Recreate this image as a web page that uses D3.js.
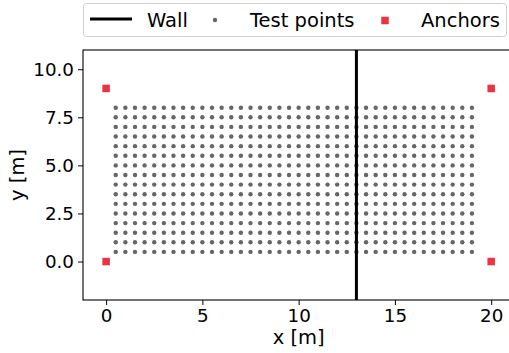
<!DOCTYPE html>
<html>
<head>
<meta charset="utf-8">
<script src="https://cdn.jsdelivr.net/npm/d3@7"></script>
<style>
  body { margin: 0; background: #fff; }
  svg { font-family: "DejaVu Sans", sans-serif; }
</style>
</head>
<body>
<div id="chart"></div>
<script>
// chart values
const xTicks = [0, 5, 10, 15, 20];
const yTicks = [0, 2.5, 5, 7.5, 10];
const testXs = [0.5, 1, 1.5, 2, 2.5, 3, 3.5, 4, 4.5, 5, 5.5, 6, 6.5, 7, 7.5, 8, 8.5, 9, 9.5,
                10, 10.5, 11, 11.5, 12, 12.5, 13, 13.5, 14, 14.5, 15, 15.5, 16, 16.5, 17, 17.5, 18, 18.5, 19];
const testYs = [0.5, 1, 1.5, 2, 2.5, 3, 3.5, 4, 4.5, 5, 5.5, 6, 6.5, 7, 7.5, 8];
const anchors = [[0, 0], [0, 9], [20, 0], [20, 9]];
const wallX = 13;
const legendLabels = ['Wall', 'Test points', 'Anchors'];

const width = 509, height = 353;
const margin = {t: 50, r: -5.3, b: 53, l: 83};

const svg = d3.select('#chart').append('svg')
  .attr('width', width)
  .attr('height', height);

const x = d3.scaleLinear().domain([-1.2, 21.2]).range([margin.l, width - margin.r]);
const y = d3.scaleLinear().domain([-2, 11]).range([height - margin.b, margin.t]);

const plot = svg.append('g');

// test points grid
const pts = [];
testYs.forEach(function(yy){
  testXs.forEach(function(xx){ pts.push([xx, yy]); });
});

plot.selectAll('circle.tp')
  .data(pts)
  .enter()
  .append('circle')
  .attr('class', 'tp')
  .attr('cx', d => x(d[0]))
  .attr('cy', d => y(d[1]))
  .attr('r', 2.2)
  .style('fill', '#666666');

// wall
plot.append('line')
  .attr('x1', x(wallX)).attr('x2', x(wallX))
  .attr('y1', y(-2)).attr('y2', y(11))
  .style('stroke', '#000')
  .style('stroke-width', 3);

// anchors
const sq = 7.5;
plot.selectAll('rect.anchor')
  .data(anchors)
  .enter()
  .append('rect')
  .attr('class', 'anchor')
  .attr('x', d => x(d[0]) - sq / 2)
  .attr('y', d => y(d[1]) - sq / 2)
  .attr('width', sq)
  .attr('height', sq)
  .style('fill', '#ec3340');

// axes
const xAxis = svg.append('g')
  .attr('transform', `translate(0,${height - margin.b})`)
  .call(d3.axisBottom(x).tickValues(xTicks).tickFormat(d3.format('d')).tickSize(5).tickPadding(4));

const yAxis = svg.append('g')
  .attr('transform', `translate(${margin.l},0)`)
  .call(d3.axisLeft(y).tickValues(yTicks).tickFormat(d3.format('.1f')).tickSize(5).tickPadding(4));

[xAxis, yAxis].forEach(function(a){
  a.select('.domain').remove();
  a.selectAll('text').style('font-size', '18.3px').style('fill', '#000').style('font-family', '"DejaVu Sans"');
  a.selectAll('line').style('stroke', '#000').style('stroke-width', 1);
});

// spines (left, bottom, top)
svg.append('rect')
  .attr('x', x(-1.2))
  .attr('y', y(11))
  .attr('width', x(21.2) - x(-1.2))
  .attr('height', y(-2) - y(11))
  .style('fill', 'none')
  .style('stroke', '#000')
  .style('stroke-width', 1.1);

// axis labels
svg.append('text')
  .attr('x', x(10))
  .attr('y', 344)
  .attr('text-anchor', 'middle')
  .style('font-size', '19.5px')
  .text('x [m]');

svg.append('text')
  .attr('transform', `translate(24,${(y(-2) + y(11)) / 2}) rotate(-90)`)
  .attr('text-anchor', 'middle')
  .style('font-size', '19.5px')
  .text('y [m]');

// legend
const lg = svg.append('g');
lg.append('rect')
  .attr('x', 83.5).attr('y', 3.5)
  .attr('width', 423).attr('height', 33)
  .attr('rx', 3)
  .style('fill', '#fff')
  .style('stroke', '#d0d0d0')
  .style('stroke-width', 1);

lg.append('line')
  .attr('x1', 90).attr('x2', 132)
  .attr('y1', 19).attr('y2', 19)
  .style('stroke', '#000').style('stroke-width', 3);
lg.append('circle')
  .attr('cx', 215).attr('cy', 20).attr('r', 2.2)
  .style('fill', '#666666');
lg.append('rect')
  .attr('x', 385 - sq / 2).attr('y', 20.5 - sq / 2)
  .attr('width', sq).attr('height', sq)
  .style('fill', '#ec3340');

const legendX = [147, 250, 421];
lg.selectAll('text.lab')
  .data(legendLabels)
  .enter()
  .append('text')
  .attr('class', 'lab')
  .attr('x', (d, i) => legendX[i])
  .attr('y', 26.5)
  .style('font-size', '19.5px')
  .text(d => d);
</script>
</body>
</html>
